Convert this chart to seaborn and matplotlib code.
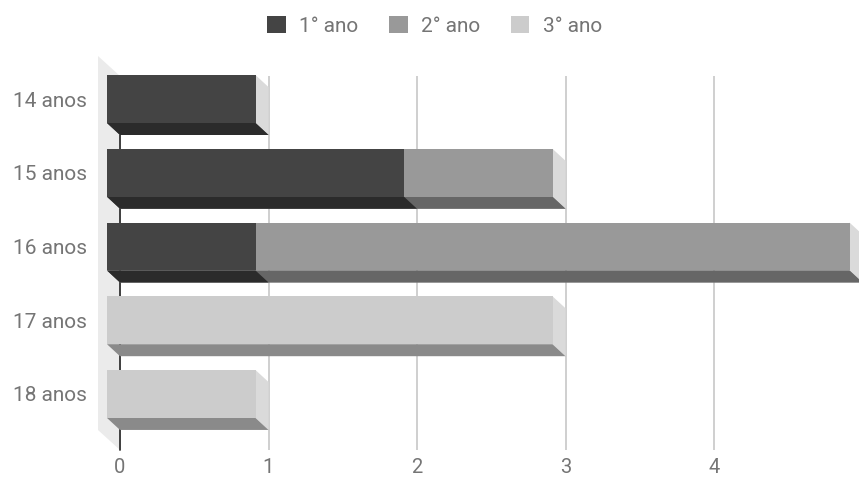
import matplotlib
matplotlib.use('Agg')
import matplotlib.pyplot as plt
from matplotlib.patches import Polygon, Patch
import numpy as np
import seaborn as sns

ages = ['14 anos', '15 anos', '16 anos', '17 anos', '18 anos']
series = ['1° ano', '2° ano', '3° ano']
ano1 = [1, 2, 1, 0, 0]
ano2 = [0, 1, 4, 0, 0]
ano3 = [0, 0, 0, 3, 1]
x_ticks = [0, 1, 2, 3, 4]

front_colors = ['#444444', '#999999', '#cccccc']
bottom_colors = ['#2b2b2b', '#666666', '#8a8a8a']
side_color = '#dadada'
wall_color = '#ebebeb'
text_color = '#757575'

sns.set_style('white')
plt.rcParams['font.family'] = ['Roboto', 'DejaVu Sans']

W, H = 859, 479
fig = plt.figure(figsize=(W / 100, H / 100), dpi=100)
ax = fig.add_axes([120 / W, 1 - 450 / H, (W - 120) / W, (450 - 76) / H])

# stacked bars drawn as overlapping cumulative sums (outer layer first)
values = np.array([ano1, ano2, ano3])
cum = values.cumsum(axis=0)
layers = []
for k in [2, 1, 0]:
    n0 = len(ax.patches)
    sns.barplot(x=cum[k], y=ages, orient='h', color=front_colors[k],
                saturation=1, width=0.65, ax=ax)
    layers.append((k, ax.patches[n0:]))

unit_x = 148.5
ax.set_xlim(0, (W - 120) / unit_x)
ytop, ybot = -0.475, 4.597
ax.set_ylim(ybot, ytop)

# depth of the 3d effect, in data units
p0 = ax.transData.transform((0, 0))
p1 = ax.transData.transform((1, 1))
ux, uy = p1[0] - p0[0], p0[1] - p1[1]
dx, dy = 13 / ux, 12 / uy

for i, (k, patches) in enumerate(layers):
    for p in patches:
        x0, w = p.get_x(), p.get_width()
        y0, h = p.get_y(), p.get_height()
        if w <= 0:
            p.set_visible(False)
            continue
        yb = y0 + h
        x1 = x0 + w
        p.set_x(x0 - dx)
        p.set_y(y0 - dy)
        p.set_edgecolor('none')
        p.set_zorder(4 + 3 * i)
        p.set_clip_on(False)
        bottom = Polygon([(x0 - dx, yb - dy), (x1 - dx, yb - dy), (x1, yb), (x0, yb)],
                         closed=True, facecolor=bottom_colors[k], edgecolor='none',
                         zorder=3 + 3 * i, clip_on=False)
        ax.add_patch(bottom)
        if i == 0:
            side = Polygon([(x1 - dx, y0 - dy), (x1, y0), (x1, yb), (x1 - dx, yb - dy)],
                           closed=True, facecolor=side_color, edgecolor='none',
                           zorder=2, clip_on=False)
            ax.add_patch(side)

# left wall
dxw, dyw = 22 / ux, 20 / uy
wall = Polygon([(-dxw, ytop - dyw), (0, ytop), (0, ybot), (-dxw, ybot - dyw)],
               closed=True, facecolor=wall_color, edgecolor='none', zorder=0.5, clip_on=False)
ax.add_patch(wall)
ax.plot([0, 0], [ytop, ybot], color='#333333', lw=1.3, zorder=1, clip_on=False)

for s in ax.spines.values():
    s.set_visible(False)
ax.set_axisbelow(True)
ax.xaxis.grid(True, color='#cccccc', lw=1.3)
ax.yaxis.grid(False)
ax.set_xticks(x_ticks)
ax.set_xticklabels([str(t) for t in x_ticks])
ax.set_yticks(np.arange(len(ages)) - dy)
ax.set_yticklabels(ages)
ax.tick_params(axis='y', length=0, pad=24, labelsize=15, labelcolor=text_color)
ax.tick_params(axis='x', length=0, pad=6, labelsize=14.5, labelcolor=text_color)
ax.set_xlabel('')
ax.set_ylabel('')

handles = [Patch(facecolor=c, edgecolor='none') for c in front_colors]
fig.legend(handles, series, loc='center', bbox_to_anchor=(0.506, 0.946), ncol=3,
           frameon=False, fontsize=15, labelcolor=text_color,
           handlelength=0.9, handleheight=0.87, handletextpad=0.65, columnspacing=1.45)

fig.savefig('out.png', dpi=100)
